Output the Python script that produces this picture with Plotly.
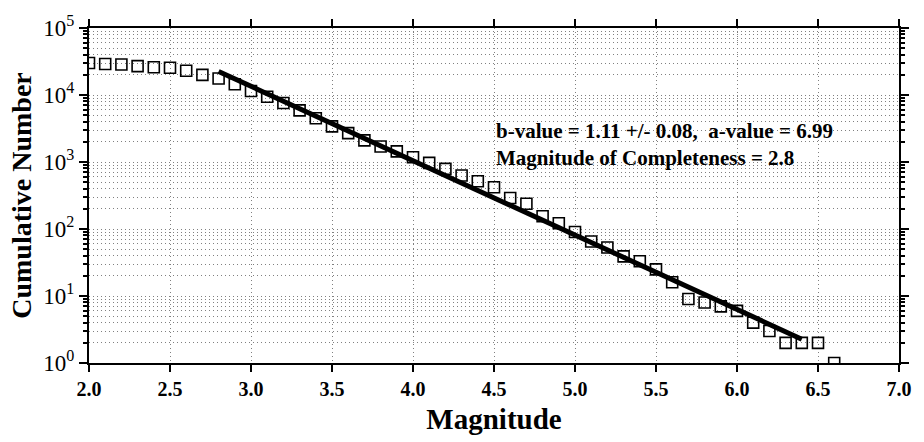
import numpy as np
import plotly.graph_objects as go

# Cumulative number of events with magnitude >= M
magnitudes = [2.0, 2.1, 2.2, 2.3, 2.4, 2.5, 2.6, 2.7, 2.8, 2.9,
              3.0, 3.1, 3.2, 3.3, 3.4, 3.5, 3.6, 3.7, 3.8, 3.9,
              4.0, 4.1, 4.2, 4.3, 4.4, 4.5, 4.6, 4.7, 4.8, 4.9,
              5.0, 5.1, 5.2, 5.3, 5.4, 5.5, 5.6, 5.7, 5.8, 5.9,
              6.0, 6.1, 6.2, 6.3, 6.4, 6.5, 6.6]
cumulative = [30000, 29000, 28500, 27000, 26000, 25500, 23000, 20000, 17600, 14500,
              11500, 9400, 7600, 5900, 4500, 3400, 2700, 2100, 1700, 1440,
              1180, 970, 790, 630, 515, 420, 290, 238, 155, 122,
              90, 65, 53, 39, 33, 25, 16, 9, 8, 7,
              6, 4, 3, 2, 2, 2, 1]

# Gutenberg-Richter fit
b_value = 1.11
b_error = 0.08
a_value = 6.99
mc = 2.8
m_max_fit = 6.4
fit_intercept = 7.46  # intercept of the plotted cumulative line

x_ticks = [2.0, 2.5, 3.0, 3.5, 4.0, 4.5, 5.0, 5.5, 6.0, 6.5, 7.0]
y_tick_vals = [1, 10, 100, 1000, 10000, 100000]
y_tick_text = ["10<sup>%d</sup>" % i for i in range(6)]

fit_m = np.array([mc, m_max_fit])
fit_n = 10 ** (fit_intercept - b_value * fit_m)

font_family = "Liberation Serif"
grid_color = "#808080"
grid_dash = "1px,3px"

fig = go.Figure()
fig.add_trace(go.Scatter(
    x=fit_m, y=fit_n, mode="lines",
    line=dict(color="black", width=5),
    showlegend=False, hoverinfo="skip"))
fig.add_trace(go.Scatter(
    x=magnitudes, y=cumulative, mode="markers",
    marker=dict(symbol="square-open", size=11, color="black",
                line=dict(width=1.6, color="black")),
    showlegend=False))

# Fit summary
fig.add_annotation(
    x=4.50, y=1.0, xref="x", yref="paper",
    xanchor="left", yanchor="top", showarrow=False, align="left",
    yshift=-89,
    text=("<b>b-value = %.2f +/- %.2f,  a-value = %.2f</b><br>"
          "<b>Magnitude of Completeness = %.1f</b>") % (b_value, b_error, a_value, mc),
    font=dict(family=font_family, size=21, color="black"))

fig.update_xaxes(
    range=[2.0, 7.0], tickvals=x_ticks,
    ticktext=["<b>%.1f</b>" % v for v in x_ticks],
    tickfont=dict(family=font_family, size=20, color="black"),
    ticks="outside", ticklen=7, tickwidth=2, tickcolor="black",
    showline=True, linecolor="black", linewidth=2, mirror="ticks",
    showgrid=True, gridcolor=grid_color, griddash=grid_dash, gridwidth=1,
    zeroline=False,
    title=dict(text="<b>Magnitude</b>", standoff=10,
               font=dict(family=font_family, size=29, color="black")))

fig.update_yaxes(
    type="log", range=[0, 5], tickvals=y_tick_vals, ticktext=y_tick_text,
    tickfont=dict(family=font_family, size=23, color="black"),
    ticks="outside", ticklen=8, tickwidth=2, tickcolor="black",
    showline=True, linecolor="black", linewidth=2, mirror="ticks",
    showgrid=True, gridcolor=grid_color, griddash=grid_dash, gridwidth=1,
    minor=dict(ticks="outside", ticklen=4, tickwidth=1.5, tickcolor="black",
               showgrid=True, gridcolor=grid_color, griddash=grid_dash, gridwidth=1,
               dtick="D1"),
    zeroline=False,
    title=dict(text="<b>Cumulative Number</b>", standoff=4,
               font=dict(family=font_family, size=28, color="black")))

fig.update_layout(
    width=924, height=442,
    margin=dict(l=89, r=17, t=22, b=75),
    plot_bgcolor="white", paper_bgcolor="white",
    font=dict(family=font_family, color="black"))

fig.write_html("out.html")
